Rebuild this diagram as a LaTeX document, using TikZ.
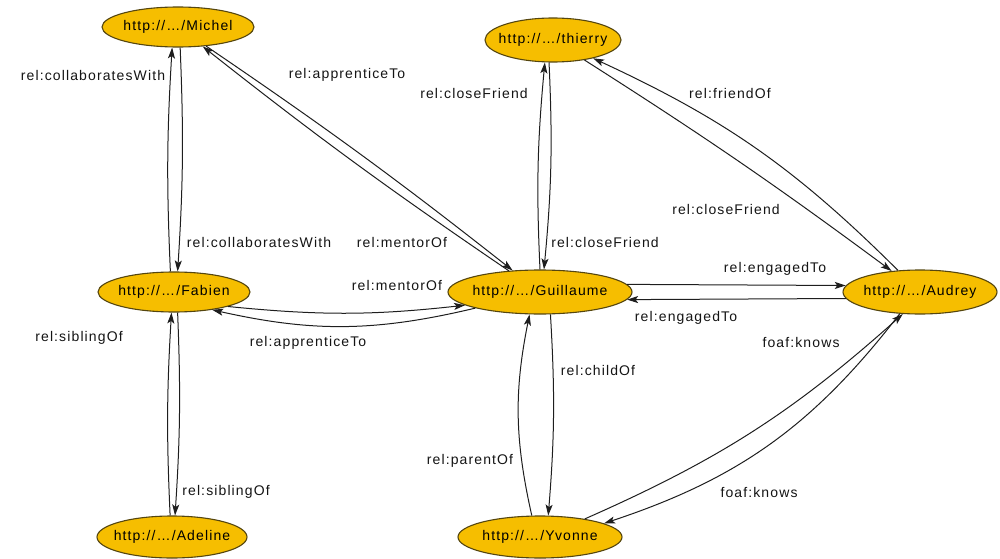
\documentclass[tikz,border=0pt]{standalone}
\usepackage{fontspec}
\setmainfont{Liberation Sans}[LetterSpace=8]
\usetikzlibrary{arrows.meta,shapes.geometric}
\definecolor{nodefill}{RGB}{246,190,0}
\definecolor{nodeline}{RGB}{85,70,15}
\definecolor{edgecol}{RGB}{30,30,30}
\definecolor{labelcol}{RGB}{20,20,20}
% resource URI, boxed at zero width so the ellipse keeps its own size
\newcommand{\uri}[1]{\makebox[0pt]{http://…/#1}}
\begin{document}
\begin{tikzpicture}[x=1pt,y=1pt,
  res/.style={ellipse, draw=nodeline, line width=1.1pt, fill=nodefill,
    inner sep=0pt, font=\fontsize{14}{16}\selectfont, text=black},
  rel/.style={font=\fontsize{14}{16}\selectfont, text=labelcol, inner sep=1pt},
  link/.style={draw=edgecol, line width=1pt, -{Stealth[length=11pt,width=7pt,inset=2.5pt]}}]
\useasboundingbox (0,0) rectangle (1000,558);

% resources
\node[res, minimum width=152, minimum height=40] (mic) at (178,531) {\uri{Michel}};
\node[res, minimum width=136, minimum height=44] (thi) at (553,518) {\uri{thierry}};
\node[res, minimum width=152, minimum height=40] (fab) at (174,266) {\uri{Fabien}};
\node[res, minimum width=184, minimum height=44] (gui) at (540,266) {\uri{Guillaume}};
\node[res, minimum width=154, minimum height=44] (aud) at (920,266) {\uri{Audrey}};
\node[res, minimum width=150, minimum height=42] (ade) at (172,21) {\uri{Adeline}};
\node[res, minimum width=164, minimum height=42] (yvo) at (540,21) {\uri{Yvonne}};

% Michel -- Fabien
\draw[link] (fab.100) to[bend left=3] (mic.-106);
\draw[link] (mic.-84) to[bend left=3] (fab.80);
% Michel -- Guillaume
\draw[link] (gui) to[bend left=2] (mic);
\draw[link] (mic) to[bend left=2] (gui);
% thierry -- Guillaume
\draw[link] (gui.north) to[bend left=4] (thi.-110);
\draw[link] (thi.-100) to[bend left=4] (gui.80);
% thierry -- Audrey
\draw[link] (aud) to[bend right=10] (thi);
\draw[link] (thi) to[bend left=2] (aud);
% Fabien -- Guillaume
\draw[link] (fab.-15) to[bend right=6] (gui.190);
\draw[link] (gui.194) to[bend left=13] (fab.-25);
% Guillaume -- Audrey
\draw[link] (gui.5) -- (aud.175);
\draw[link] (aud.185) -- (gui.-5);
% Guillaume -- Yvonne
\draw[link] (yvo.111) to[bend left=12] (gui.-115);
\draw[link] (gui.-65) to[bend left=4] (yvo.69);
% Audrey -- Yvonne
\draw[link] (yvo.22) to[bend right=9] (aud.-128);
\draw[link] (aud.-133) to[bend left=17] (yvo.12);
% Fabien -- Adeline
\draw[link] (ade.95) to[bend left=3] (fab.-97);
\draw[link] (fab.-80) to[bend left=3] (ade.82);

% property labels
\node[rel] (l1)  at (93,483)  {rel:collaboratesWith};
\node[rel] (l2)  at (347,483) {rel:apprenticeTo};
\node[rel] (l3)  at (474,465) {rel:closeFriend};
\node[rel] (l4)  at (730,465) {rel:friendOf};
\node[rel] (l5)  at (726,349) {rel:closeFriend};
\node[rel] (l6)  at (259,316) {rel:collaboratesWith};
\node[rel] (l7)  at (402,316) {rel:mentorOf};
\node[rel] (l8)  at (605,316) {rel:closeFriend};
\node[rel] (l9)  at (775,289) {rel:engagedTo};
\node[rel] (l10) at (397,273) {rel:mentorOf};
\node[rel] (l11) at (686,240) {rel:engagedTo};
\node[rel] (l12) at (308,215) {rel:apprenticeTo};
\node[rel] (l13) at (79,220)  {rel:siblingOf};
\node[rel] (l14) at (801,216) {foaf:knows};
\node[rel] (l15) at (598,188) {rel:childOf};
\node[rel] (l16) at (470,97)  {rel:parentOf};
\node[rel] (l17) at (759,66)  {foaf:knows};
\node[rel] (l18) at (226,66)  {rel:siblingOf};
\end{tikzpicture}
\end{document}
